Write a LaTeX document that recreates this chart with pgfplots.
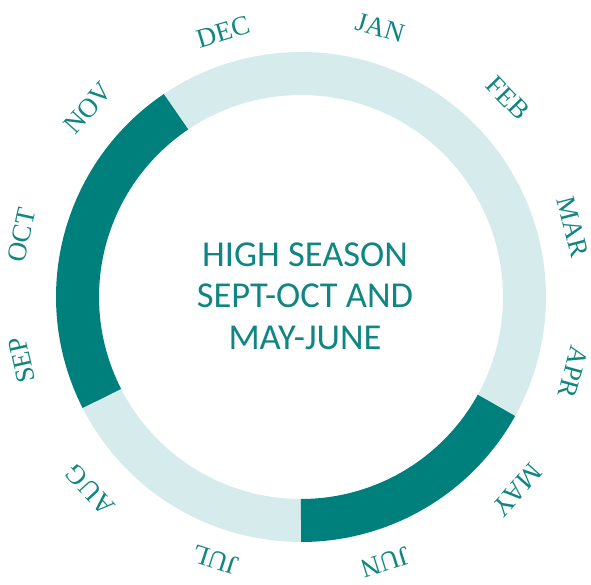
\documentclass[border=0pt]{standalone}
\usepackage{pgfplots}
\pgfplotsset{compat=1.18}
\usepackage{pgfplotstable}
\usepackage{fontspec}
\setmainfont{Liberation Serif}
\newfontfamily\carlito{Carlito}
\definecolor{darkteal}{RGB}{0,128,124}
\definecolor{lightteal}{RGB}{214,236,236}
\definecolor{textteal}{RGB}{16,134,130}

% month labels: position (relative to ring centre) and rotation
\pgfplotstableread{
m   x    y    rot
JAN 79   269  -16.4
FEB 207  199  -46
MAR 272  70   -75.6
APR 272  -75  -105.4
MAY 216  -193 -131.8
JUN 84   -265 -162.4
JUL -86  -263 -198
AUG -211 -193 -227.5
SEP -279 -63  -257.3
OCT -279 62   -282.5
NOV -213 189  -311.6
DEC -78  265  -343.6
}\months

\begin{document}
\begin{tikzpicture}
\begin{axis}[
  x=1pt, y=1pt,
  xmin=-301, xmax=290, ymin=-287, ymax=297,
  hide axis, clip=false,
]
% ring segments: angles in degrees, clockwise from 12 o'clock
% light: DEC-APR part (326 -> 479) and JUL-AUG part (180 -> 243)
\addplot[lightteal, line width=43pt, line cap=butt, domain=326:479, samples=120, variable=\t]
  ({223.5*sin(\t)}, {223.5*cos(\t)});
\addplot[lightteal, line width=43pt, line cap=butt, domain=180:243, samples=60, variable=\t]
  ({223.5*sin(\t)}, {223.5*cos(\t)});
% dark: MAY-JUN (119 -> 180) and SEP-NOV (243 -> 326)
\addplot[darkteal, line width=43pt, line cap=butt, domain=119:180, samples=60, variable=\t]
  ({223.5*sin(\t)}, {223.5*cos(\t)});
\addplot[darkteal, line width=43pt, line cap=butt, domain=243:326, samples=80, variable=\t]
  ({223.5*sin(\t)}, {223.5*cos(\t)});
% month labels
\addplot[only marks, mark size=0pt, point meta=explicit symbolic,
  visualization depends on={\thisrow{rot}\as\rot},
  nodes near coords,
  nodes near coords style={anchor=center, rotate=\rot, text=textteal,
     font=\fontsize{27}{30}\selectfont, inner sep=0pt}]
  table[x=x, y=y, meta=m] {\months};
\node[text=textteal, align=center, font=\carlito\fontsize{36.5}{41.5}\selectfont]
  at (axis cs:4,1) {HIGH SEASON\\SEPT-OCT AND\\MAY-JUNE};
\end{axis}
\pgfresetboundingbox
\path[use as bounding box] (current axis.south west) rectangle (current axis.north east);
\end{tikzpicture}
\end{document}
